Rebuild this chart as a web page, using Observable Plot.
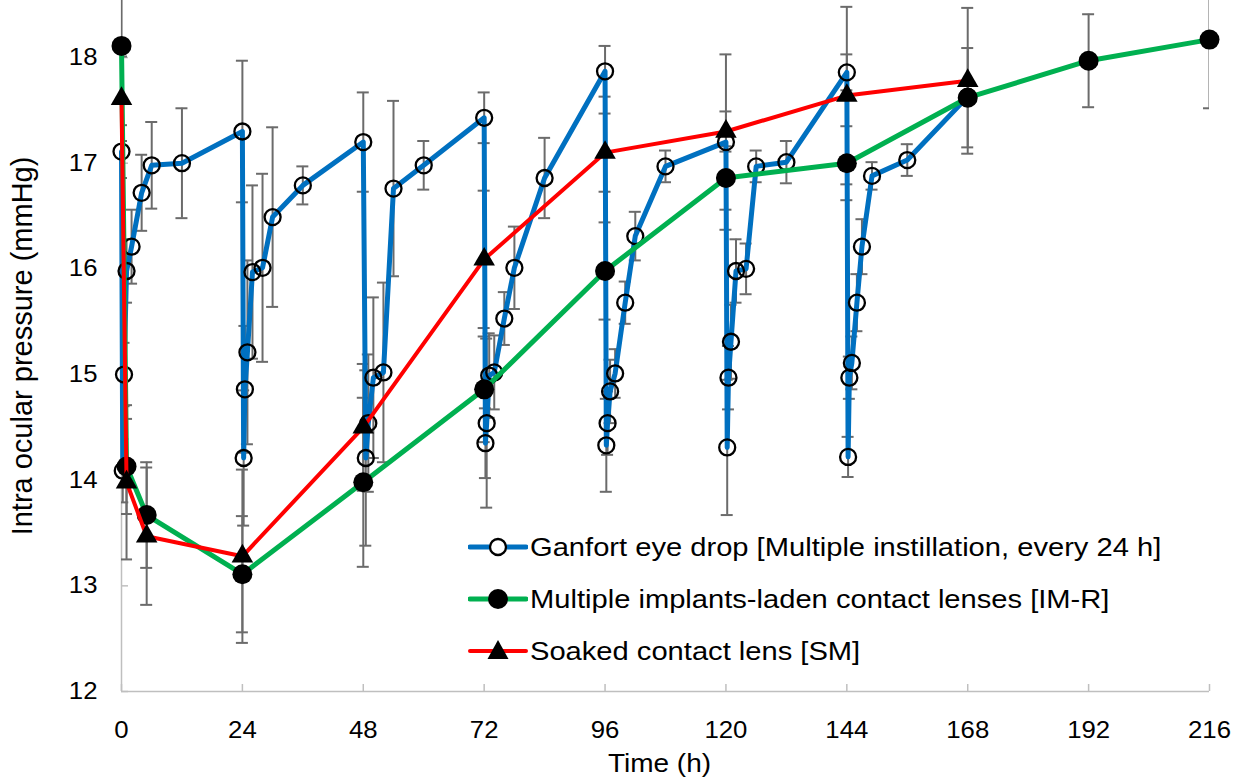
<!DOCTYPE html>
<html>
<head>
<meta charset="utf-8">
<script src="https://cdn.jsdelivr.net/npm/d3@7"></script>
<script src="https://cdn.jsdelivr.net/npm/@observablehq/plot@0.6"></script>
<style>
  body { margin: 0; background: #fff; font-family: "Liberation Sans", Arial, sans-serif; }
  #wrap { position: relative; width: 1243px; height: 784px; overflow: hidden; background: #fff; }
  .lrow { position: absolute; left: 468px; height: 40px; display: flex; align-items: center; white-space: nowrap; }
  .lrow span { font-size: 26px; color: #000; transform: scaleX(1.12); transform-origin: left center; display: inline-block; margin-left: 2px; }
</style>
</head>
<body>
<div id="wrap"><div id="chart"></div><div id="legend"></div></div>
<script>
// ---- tick labels ----
const xTicks = [0, 24, 48, 72, 96, 120, 144, 168, 192, 216];
const yTicks = [12, 13, 14, 15, 16, 17, 18];
const xTitle = "Time (h)";
const yTitle = "Intra ocular pressure (mmHg)";
const seriesNames = [
  "Ganfort eye drop [Multiple instillation, every 24 h]",
  "Multiple implants-laden contact lenses [IM-R]",
  "Soaked contact lens [SM]"
];

// ---- Ganfort eye drop (open circles, blue) ----
const ganfortT = [
  0, 0.25, 0.5, 1, 2, 4, 6, 12, 24,
  24.25, 24.5, 25, 26, 28, 30, 36, 48,
  48.5, 49, 50, 52, 54, 60, 72,
  72.25, 72.5, 73, 74, 76, 78, 84, 96,
  96.25, 96.5, 97, 98, 100, 102, 108, 120,
  120.25, 120.5, 121, 122, 124, 126, 132, 144,
  144.25, 144.5, 145, 146, 147, 149, 156, 168
];
const ganfortV = [
  17.11, 14.09, 15.00, 15.98, 16.21, 16.72, 16.98, 17.00, 17.30,
  14.21, 14.86, 15.21, 15.97, 16.01, 16.49, 16.79, 17.20,
  14.21, 14.54, 14.97, 15.02, 16.76, 16.98, 17.43,
  14.35, 14.54, 14.99, 15.02, 15.53, 16.01, 16.86, 17.87,
  14.33, 14.54, 14.84, 15.01, 15.68, 16.31, 16.97, 17.20,
  14.31, 14.97, 15.31, 15.98, 16.00, 16.97, 17.01, 17.86,
  14.22, 14.97, 15.11, 15.68, 16.21, 16.88, 17.03, 17.63
];
const ganfortE = [
  0.25, 0.30, 0.30, 0.30, 0.35, 0.36, 0.41, 0.52, 0.67,
  0.64, 0.60, 0.87, 0.82, 0.89, 0.85, 0.18, 0.47,
  0.83, 0.65, 0.76, 0.85, 0.83, 0.23, 0.24,
  0.33, 0.80, 0.40, 0.35, 0.25, 0.39, 0.38, 0.24,
  0.44, 0.30, 0.30, 0.23, 0.20, 0.23, 0.15, 0.83,
  0.64, 0.30, 0.35, 0.30, 0.24, 0.15, 0.20, 0.17,
  0.19, 0.20, 0.25, 0.27, 0.26, 0.13, 0.15, 0.00
];

// ---- Multiple implants-laden contact lenses [IM-R] (filled circles, green) ----
const imrT = [0, 1, 5, 24, 48, 72, 96, 120, 144, 168, 192, 216];
const imrV = [18.11, 14.13, 13.67, 13.11, 13.98, 14.86, 15.98, 16.86, 17.00, 17.62, 17.97, 18.17];
const imrE = [0.50, 0.45, 0.50, 0.55, 0.80, 0.50, 0.46, 0.30, 0.35, 0.47, 0.44, 0.65];

// ---- Soaked contact lens [SM] (triangles, red) ----
const smT = [0, 1, 5, 24, 48, 72, 96, 120, 144, 168];
const smV = [17.61, 13.98, 13.47, 13.28, 14.50, 16.09, 17.10, 17.30, 17.64, 17.78];
const smE = [0.40, 0.73, 0.65, 0.82, 0.60, 0.65, 0.37, 0.19, 0.84, 0.69];

const colors = ["#0070C0", "#00B050", "#FF0000"];
const GRAY = "#6b6b6b";
const AXIS = "#bfbfbf";
const FONT = '"Liberation Sans", Arial, sans-serif';
const SX = 1.12; // horizontal stretch of the reference's glyphs

const rows = (T, V, E) => T.map((t, i) => ({t, v: V[i], e: E[i]}));
const ganfort = rows(ganfortT, ganfortV, ganfortE);
const imr = rows(imrT, imrV, imrE);
const sm = rows(smT, smV, smE);
const errs = [...ganfort, ...imr, ...sm].filter(d => d.e > 0);

const chart = Plot.plot({
  width: 1243,
  height: 784,
  marginLeft: 121,
  marginRight: 34,
  marginTop: 0,
  marginBottom: 93,
  x: {domain: [0, 216], axis: null},
  y: {domain: [12, 18.54], axis: null},
  style: {fontFamily: FONT, background: "white", color: "black"},
  marks: [
    // axes
    Plot.ruleY([12], {stroke: AXIS, strokeWidth: 1.5}),
    Plot.ruleX([0], {stroke: AXIS, strokeWidth: 1.5}),
    Plot.ruleX(xTicks, {x: d => d, y1: 12, y2: 12, insetTop: -7, stroke: AXIS, strokeWidth: 1.5}),
    Plot.ruleY(yTicks, {y: d => d, x1: 0, x2: 0, insetRight: -7, stroke: AXIS, strokeWidth: 1.5}),
    Plot.text(xTicks, {x: d => d, y: 12, dy: 39, text: d => String(d), fontSize: 23, fill: "black"}),
    Plot.text(yTicks, {x: 0, y: d => d, dx: -24, text: d => String(d), textAnchor: "end", fontSize: 23, fill: "black"}),
    Plot.text([xTitle], {frameAnchor: "bottom", dy: 80, dx: -6, text: d => d, fontSize: 25, fill: "black"}),
    Plot.text([yTitle], {frameAnchor: "left", dx: -99, rotate: -90, textAnchor: "middle", text: d => d, fontSize: 29, fill: "black"}),
    // error bars
    Plot.ruleX(errs, {x: "t", y1: d => d.v - d.e, y2: d => d.v + d.e, stroke: GRAY, strokeWidth: 2, clip: true}),
    Plot.ruleY(errs, {y: d => d.v + d.e, x1: "t", x2: "t", insetLeft: -6, insetRight: -6, stroke: GRAY, strokeWidth: 2, clip: true}),
    Plot.ruleY(errs, {y: d => d.v - d.e, x1: "t", x2: "t", insetLeft: -6, insetRight: -6, stroke: GRAY, strokeWidth: 2, clip: true}),
    // Ganfort
    Plot.line(ganfort, {x: "t", y: "v", stroke: colors[0], strokeWidth: 5, strokeLinejoin: "round"}),
    Plot.dot(ganfort, {x: "t", y: "v", r: 8, stroke: "black", strokeWidth: 2.3, fill: "none"}),
    // IM-R
    Plot.line(imr, {x: "t", y: "v", stroke: colors[1], strokeWidth: 5, strokeLinejoin: "round"}),
    Plot.dot(imr, {x: "t", y: "v", r: 10, fill: "black", stroke: "none"}),
    // SM
    Plot.line(sm, {x: "t", y: "v", stroke: colors[2], strokeWidth: 4, strokeLinejoin: "round"}),
    Plot.dot(sm, {x: "t", y: "v", symbol: "triangle", r: 8, fill: "black", stroke: "none"})
  ]
});

document.getElementById("chart").appendChild(chart);

// stretch glyphs horizontally like the reference (not the rotated title)
chart.querySelectorAll("text").forEach(t => {
  if (t.textContent.startsWith("Intra")) return;
  const w = t.getComputedTextLength();
  if (w > 0) {
    t.setAttribute("textLength", (w * SX).toFixed(2));
    t.setAttribute("lengthAdjust", "spacingAndGlyphs");
  }
});

// legend
const legend = document.getElementById("legend");
const centers = [547, 599, 651];
seriesNames.forEach((name, i) => {
  const row = document.createElement("div");
  row.className = "lrow";
  row.style.top = (centers[i] - 20) + "px";
  let marker;
  if (i === 0) marker = '<circle cx="30" cy="20" r="8" fill="white" stroke="black" stroke-width="2.3"/>';
  else if (i === 1) marker = '<circle cx="30" cy="20" r="10" fill="black"/>';
  else marker = '<path d="M30,9 L40.5,28 L19.5,28 Z" fill="black"/>';
  row.innerHTML = `<svg width="60" height="40"><line x1="2" x2="58" y1="20" y2="20" stroke="${colors[i]}" stroke-width="${i === 2 ? 4 : 5}" stroke-linecap="round"/>${marker}</svg><span>${name}</span>`;
  legend.appendChild(row);
});
</script>
</body>
</html>
